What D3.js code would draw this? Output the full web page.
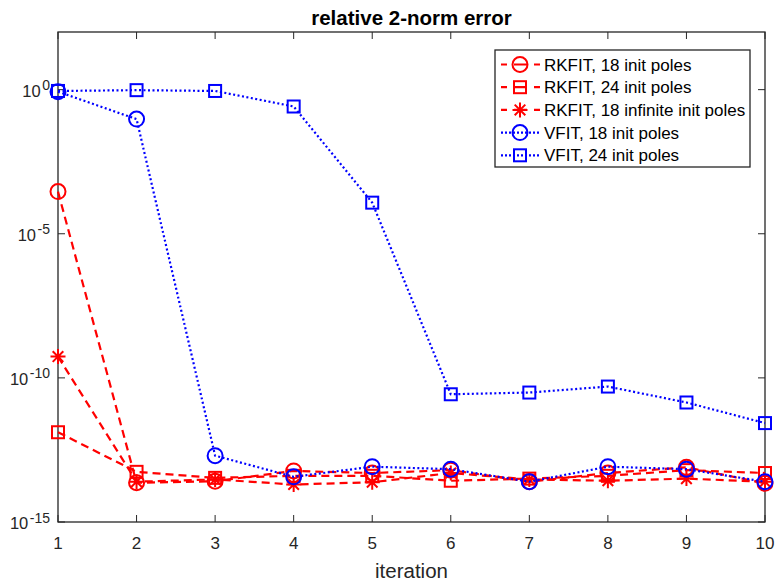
<!DOCTYPE html>
<html>
<head>
<meta charset="utf-8">
<script src="https://cdn.jsdelivr.net/npm/d3@7"></script>
<style>
  body { margin: 0; background: #fff; }
  svg { font-family: "Liberation Sans", Arial, sans-serif; }
</style>
</head>
<body>
<svg id="chart"></svg>
<script>
// iterations 1..10
const iterations = [1, 2, 3, 4, 5, 6, 7, 8, 9, 10];

// relative 2-norm error (log scale)
const rkfit18 = [2.9e-4, 2.3e-14, 2.6e-14, 5.9e-14, 5.0e-14, 6.3e-14, 2.5e-14, 5.0e-14, 7.9e-14, 2.2e-14];
const rkfit24 = [1.3e-12, 5.5e-14, 3.4e-14, 4.0e-14, 4.0e-14, 2.7e-14, 3.2e-14, 4.0e-14, 6.3e-14, 5.0e-14];
const rkfit18inf = [5.5e-10, 2.5e-14, 3.0e-14, 2.0e-14, 2.4e-14, 5.0e-14, 3.0e-14, 2.7e-14, 3.2e-14, 2.5e-14];
const vfit18 = [0.85, 0.095, 2.0e-13, 3.7e-14, 8.3e-14, 6.8e-14, 2.5e-14, 8.3e-14, 6.8e-14, 2.5e-14];
const vfit24 = [0.9, 0.96, 0.9, 0.26, 1.2e-4, 2.7e-11, 3.1e-11, 5.0e-11, 1.4e-11, 2.7e-12];

const yTicks = [1e0, 1e-5, 1e-10, 1e-15];
const yTickExp = ['0', '-5', '-10', '-15'];

const series = [
  { name: 'RKFIT, 18 init poles', values: rkfit18, color: '#ff0000', style: 'dash', marker: 'circle' },
  { name: 'RKFIT, 24 init poles', values: rkfit24, color: '#ff0000', style: 'dash', marker: 'square' },
  { name: 'RKFIT, 18 infinite init poles', values: rkfit18inf, color: '#ff0000', style: 'dash', marker: 'star' },
  { name: 'VFIT, 18 init poles', values: vfit18, color: '#0000ff', style: 'dot', marker: 'circle' },
  { name: 'VFIT, 24 init poles', values: vfit24, color: '#0000ff', style: 'dot', marker: 'square' }
];

const width = 781;
const height = 585;
const margin = { top: 32, right: 16, bottom: 63, left: 58 };
const axisColor = '#262626';

const svg = d3.select('#chart')
  .attr('width', width)
  .attr('height', height);

const x = d3.scaleLinear()
  .domain([1, 10])
  .range([margin.left, width - margin.right]);

const y = d3.scaleLog()
  .domain([1e-15, 1e2])
  .range([height - margin.bottom, margin.top]);

const x0 = margin.left, x1 = width - margin.right;
const y0 = height - margin.bottom, y1 = margin.top;

// box + ticks
const axes = svg.append('g');
axes.append('rect')
  .attr('x', x0).attr('y', y1)
  .attr('width', x1 - x0).attr('height', y0 - y1)
  .attr('fill', 'none')
  .attr('stroke', axisColor)
  .attr('stroke-width', 1.3);

const tickLen = 7;
iterations.forEach(v => {
  axes.append('line')
    .attr('x1', x(v)).attr('x2', x(v))
    .attr('y1', y0).attr('y2', y0 - tickLen)
    .attr('stroke', axisColor);
  axes.append('line')
    .attr('x1', x(v)).attr('x2', x(v))
    .attr('y1', y1).attr('y2', y1 + tickLen)
    .attr('stroke', axisColor);
  axes.append('text')
    .attr('x', x(v)).attr('y', y0 + 27)
    .attr('text-anchor', 'middle')
    .attr('font-size', 17)
    .attr('fill', axisColor)
    .text(v);
});

yTicks.forEach((v, i) => {
  axes.append('line')
    .attr('x1', x0).attr('x2', x0 + tickLen)
    .attr('y1', y(v)).attr('y2', y(v))
    .attr('stroke', axisColor);
  axes.append('line')
    .attr('x1', x1).attr('x2', x1 - tickLen)
    .attr('y1', y(v)).attr('y2', y(v))
    .attr('stroke', axisColor);
  const t = axes.append('text')
    .attr('x', x0 - 8).attr('y', y(v) + 7)
    .attr('text-anchor', 'end')
    .attr('font-size', 16.5)
    .attr('fill', axisColor);
  t.append('tspan').text('10');
  t.append('tspan')
    .attr('dx', 1.5)
    .attr('dy', -6.5)
    .attr('font-size', 14)
    .text(yTickExp[i]);
});

// title and label
svg.append('text')
  .attr('x', (x0 + x1) / 2).attr('y', 25)
  .attr('text-anchor', 'middle')
  .attr('font-size', 20.5)
  .attr('font-weight', 'bold')
  .attr('fill', '#000')
  .text('relative 2-norm error');

svg.append('text')
  .attr('x', (x0 + x1) / 2).attr('y', 578)
  .attr('text-anchor', 'middle')
  .attr('font-size', 20.5)
  .attr('fill', axisColor)
  .text('iteration');

const dashes = { dash: '8,5', dot: '2,2.5' };

function drawMarker(g, kind, cx, cy, color) {
  if (kind === 'circle') {
    g.append('circle')
      .attr('cx', cx).attr('cy', cy).attr('r', 7.5)
      .attr('fill', 'none').attr('stroke', color).attr('stroke-width', 2);
  } else if (kind === 'square') {
    g.append('rect')
      .attr('x', cx - 6).attr('y', cy - 6)
      .attr('width', 12).attr('height', 12)
      .attr('fill', 'none').attr('stroke', color).attr('stroke-width', 2);
  } else if (kind === 'star') {
    const r = 7.5;
    const p = [];
    [0, 45, 90, 135].forEach(a => {
      const rad = a * Math.PI / 180;
      p.push(`M${cx - r * Math.cos(rad)},${cy - r * Math.sin(rad)}L${cx + r * Math.cos(rad)},${cy + r * Math.sin(rad)}`);
    });
    g.append('path')
      .attr('d', p.join(''))
      .attr('stroke', color).attr('stroke-width', 2).attr('fill', 'none');
  }
}

const line = d3.line()
  .x((d, i) => x(iterations[i]))
  .y(d => y(d));

series.forEach(s => {
  const g = svg.append('g');
  g.append('path')
    .datum(s.values)
    .attr('d', line)
    .attr('fill', 'none')
    .attr('stroke', s.color)
    .attr('stroke-width', 2.2)
    .attr('stroke-dasharray', dashes[s.style]);
  s.values.forEach((v, i) => drawMarker(g, s.marker, x(iterations[i]), y(v), s.color));
});

// legend
const lg = svg.append('g');
lg.append('rect')
  .attr('x', 495).attr('y', 50)
  .attr('width', 255).attr('height', 117)
  .attr('fill', '#fff')
  .attr('stroke', axisColor)
  .attr('stroke-width', 1.3);

series.forEach((s, i) => {
  const cy = 64.5 + i * 22.7;
  lg.append('line')
    .attr('x1', 501).attr('x2', 540)
    .attr('y1', cy).attr('y2', cy)
    .attr('stroke', s.color)
    .attr('stroke-width', 2.2)
    .attr('stroke-dasharray', s.style === 'dash' ? '6,7,13,7,6' : '2,2');
  drawMarker(lg, s.marker, 520, cy, s.color);
  lg.append('text')
    .attr('x', 544).attr('y', cy + 6)
    .attr('font-size', 17)
    .attr('fill', '#000')
    .text(s.name);
});
</script>
</body>
</html>
